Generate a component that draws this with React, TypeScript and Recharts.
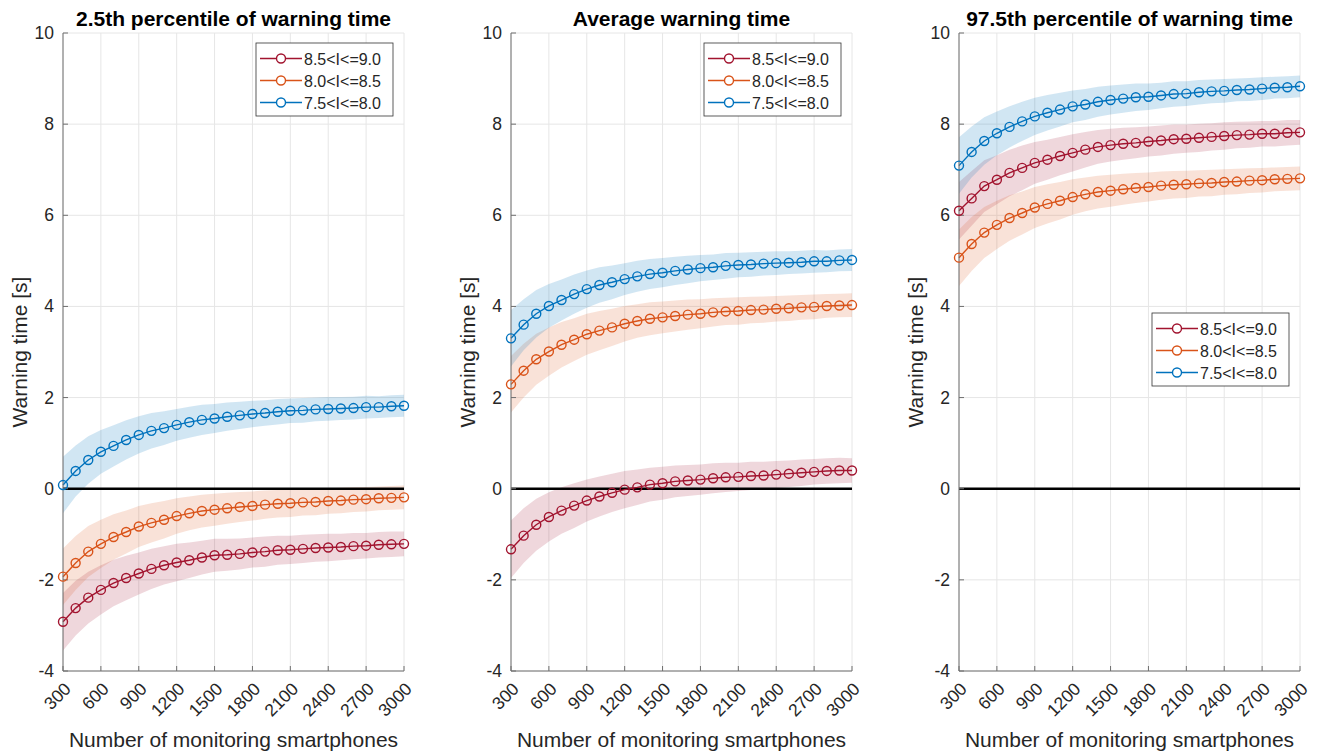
import React from "react";
import {
  ComposedChart, Area, Line, XAxis, YAxis, CartesianGrid, ReferenceLine,
} from "recharts";

// ─── Data ─────────────────────────────────────────────────────────────────────

const X_VALUES = [
  300, 400, 500, 600, 700, 800, 900, 1000, 1100, 1200, 1300, 1400, 1500, 1600,
  1700, 1800, 1900, 2000, 2100, 2200, 2300, 2400, 2500, 2600, 2700, 2800, 2900, 3000,
];
const X_TICKS = [300, 600, 900, 1200, 1500, 1800, 2100, 2400, 2700, 3000];
const Y_TICKS = [-4, -2, 0, 2, 4, 6, 8, 10];
const SERIES_NAMES = ["8.5<I<=9.0", "8.0<I<=8.5", "7.5<I<=8.0"];

// 2.5th percentile
const P1_RED = [-2.92, -2.62, -2.39, -2.22, -2.07, -1.96, -1.86, -1.76, -1.68, -1.62, -1.57, -1.51, -1.46, -1.45, -1.43, -1.4, -1.38, -1.35, -1.34, -1.32, -1.3, -1.29, -1.28, -1.26, -1.25, -1.23, -1.22, -1.21];
const P1_ORANGE = [-1.93, -1.63, -1.38, -1.21, -1.06, -0.95, -0.83, -0.75, -0.68, -0.6, -0.54, -0.49, -0.46, -0.43, -0.4, -0.38, -0.35, -0.33, -0.32, -0.3, -0.29, -0.27, -0.26, -0.24, -0.23, -0.21, -0.2, -0.19];
const P1_BLUE = [0.08, 0.39, 0.63, 0.81, 0.94, 1.07, 1.18, 1.27, 1.33, 1.4, 1.46, 1.51, 1.54, 1.58, 1.61, 1.64, 1.66, 1.69, 1.71, 1.72, 1.74, 1.75, 1.76, 1.77, 1.79, 1.79, 1.81, 1.82];

// Average
const P2_RED = [-1.33, -1.03, -0.79, -0.62, -0.48, -0.37, -0.26, -0.17, -0.09, -0.02, 0.03, 0.09, 0.12, 0.16, 0.18, 0.2, 0.23, 0.25, 0.26, 0.28, 0.29, 0.31, 0.33, 0.35, 0.37, 0.39, 0.4, 0.4];
const P2_ORANGE = [2.29, 2.59, 2.84, 3.01, 3.16, 3.27, 3.39, 3.47, 3.54, 3.62, 3.68, 3.73, 3.76, 3.79, 3.82, 3.84, 3.87, 3.89, 3.9, 3.92, 3.93, 3.95, 3.96, 3.98, 3.99, 4.01, 4.02, 4.03];
const P2_BLUE = [3.3, 3.6, 3.84, 4.01, 4.14, 4.27, 4.38, 4.47, 4.53, 4.6, 4.66, 4.71, 4.74, 4.78, 4.81, 4.84, 4.86, 4.89, 4.91, 4.92, 4.94, 4.95, 4.96, 4.97, 4.99, 4.99, 5.01, 5.02];

// 97.5th percentile
const P3_RED = [6.1, 6.37, 6.64, 6.78, 6.93, 7.04, 7.15, 7.22, 7.3, 7.37, 7.44, 7.5, 7.54, 7.57, 7.59, 7.62, 7.64, 7.67, 7.68, 7.7, 7.72, 7.74, 7.76, 7.77, 7.79, 7.79, 7.81, 7.82];
const P3_ORANGE = [5.07, 5.37, 5.62, 5.79, 5.94, 6.05, 6.17, 6.25, 6.32, 6.4, 6.46, 6.51, 6.54, 6.57, 6.6, 6.62, 6.65, 6.67, 6.68, 6.7, 6.71, 6.73, 6.74, 6.76, 6.77, 6.79, 6.8, 6.81];
const P3_BLUE = [7.09, 7.39, 7.63, 7.8, 7.94, 8.06, 8.17, 8.25, 8.32, 8.39, 8.43, 8.49, 8.53, 8.56, 8.59, 8.6, 8.63, 8.66, 8.67, 8.7, 8.72, 8.73, 8.75, 8.76, 8.78, 8.8, 8.81, 8.83];

// half-width of the shaded bands
const SPREAD_RED = [0.63, 0.6, 0.57, 0.54, 0.51, 0.49, 0.46, 0.44, 0.42, 0.41, 0.39, 0.37, 0.36, 0.35, 0.34, 0.33, 0.33, 0.32, 0.31, 0.31, 0.3, 0.3, 0.29, 0.29, 0.28, 0.28, 0.28, 0.27];
const SPREAD_ORANGE = [0.62, 0.59, 0.56, 0.53, 0.5, 0.47, 0.45, 0.43, 0.41, 0.39, 0.37, 0.36, 0.35, 0.34, 0.33, 0.32, 0.31, 0.3, 0.3, 0.29, 0.29, 0.28, 0.28, 0.27, 0.27, 0.26, 0.26, 0.26];
const SPREAD_BLUE = [0.62, 0.56, 0.52, 0.48, 0.45, 0.43, 0.41, 0.39, 0.37, 0.35, 0.34, 0.33, 0.32, 0.31, 0.3, 0.29, 0.28, 0.28, 0.27, 0.27, 0.26, 0.26, 0.25, 0.25, 0.25, 0.24, 0.24, 0.24];

// ─── Style ────────────────────────────────────────────────────────────────────

const FONT = '"Liberation Sans", Arial, Helvetica, sans-serif';
const RED = "#A2142F";
const ORANGE = "#D95319";
const BLUE = "#0072BD";
const COLORS = [RED, ORANGE, BLUE];
const AXIS = "#6e6e6e";
const TEXT = "#262626";

const CHART_W = 427;
const CHART_H = 756;
const M_TOP = 33;
const M_RIGHT = 23;
const Y_W = 63;
const X_H = 85;

// ─── Helpers ──────────────────────────────────────────────────────────────────

function buildRows(red: number[], orange: number[], blue: number[]) {
  return X_VALUES.map((x, i) => ({
    x,
    red: red[i],
    orange: orange[i],
    blue: blue[i],
    redBand: [red[i] - SPREAD_RED[i], red[i] + SPREAD_RED[i]],
    orangeBand: [orange[i] - SPREAD_ORANGE[i], orange[i] + SPREAD_ORANGE[i]],
    blueBand: [blue[i] - SPREAD_BLUE[i], blue[i] + SPREAD_BLUE[i]],
  }));
}

function XTick({ x, y, payload }: any) {
  return (
    <text
      x={x + 9}
      y={y + 4}
      transform={`rotate(-45 ${x + 9} ${y + 4})`}
      textAnchor="end"
      fontSize={17.5}
      fontFamily={FONT}
      fill={TEXT}
    >
      {payload.value}
    </text>
  );
}

function YTick({ x, y, payload }: any) {
  return (
    <text
      x={x}
      y={y}
      dy={6}
      textAnchor="end"
      fontSize={17.5}
      fontFamily={FONT}
      fill={TEXT}
    >
      {payload.value}
    </text>
  );
}

// ─── Legend ───────────────────────────────────────────────────────────────────

function LegendBox({ left, top }: { left: number; top: number }) {
  return (
    <g transform={`translate(${left},${top})`}>
      <rect x={0} y={0} width={137} height={73} fill="#fff" stroke="#333" strokeWidth={0.8} />
      {SERIES_NAMES.map((name, i) => {
        const cy = 15.5 + i * 22;
        return (
          <g key={name}>
            <line x1={4} x2={46} y1={cy} y2={cy} stroke={COLORS[i]} strokeWidth={1.5} />
            <circle cx={25} cy={cy} r={4.5} fill="#fff" stroke={COLORS[i]} strokeWidth={1.4} />
            <text x={48} y={cy + 6} fontSize={16} fontFamily={FONT} fill={TEXT}>
              {name}
            </text>
          </g>
        );
      })}
    </g>
  );
}

// ─── Panel ────────────────────────────────────────────────────────────────────

function Panel({
  left,
  title,
  red,
  orange,
  blue,
  legendTop,
}: {
  left: number;
  title: string;
  red: number[];
  orange: number[];
  blue: number[];
  legendTop: number;
}) {
  const rows = buildRows(red, orange, blue);
  const plotLeft = Y_W;
  const plotRight = CHART_W - M_RIGHT;
  const plotTop = M_TOP;
  const plotBottom = CHART_H - X_H;
  const cx = (plotLeft + plotRight) / 2;
  const cy = (plotTop + plotBottom) / 2;

  const dot = (c: string) => ({ r: 4.5, fill: "none", stroke: c, strokeWidth: 1.4 });

  return (
    <div style={{ position: "absolute", left, top: 0, width: CHART_W, height: CHART_H }}>
      <ComposedChart
        width={CHART_W}
        height={CHART_H}
        data={rows}
        margin={{ top: M_TOP, right: M_RIGHT, bottom: 0, left: 0 }}
      >
        <CartesianGrid stroke="#e6e6e6" strokeWidth={1} />
        <XAxis
          dataKey="x"
          type="number"
          domain={[300, 3000]}
          ticks={X_TICKS}
          interval={0}
          height={X_H}
          tickSize={-5}
          tickMargin={20}
          stroke={AXIS}
          tick={<XTick />}
        />
        <XAxis
          xAxisId="top"
          orientation="top"
          type="number"
          domain={[300, 3000]}
          ticks={X_TICKS}
          interval={0}
          height={0}
          tickSize={-5}
          tick={false}
          stroke={AXIS}
        />
        <YAxis
          type="number"
          domain={[-4, 10]}
          ticks={Y_TICKS}
          interval={0}
          width={Y_W}
          tickSize={-5}
          tickMargin={14}
          stroke={AXIS}
          tick={<YTick />}
        />
        <YAxis
          yAxisId="right"
          orientation="right"
          type="number"
          domain={[-4, 10]}
          ticks={Y_TICKS}
          interval={0}
          width={0}
          tickSize={-5}
          tick={false}
          stroke={AXIS}
        />
        <Area dataKey="redBand" type="linear" stroke="none" fill={RED} fillOpacity={0.17} isAnimationActive={false} activeDot={false} />
        <Area dataKey="orangeBand" type="linear" stroke="none" fill={ORANGE} fillOpacity={0.17} isAnimationActive={false} activeDot={false} />
        <Area dataKey="blueBand" type="linear" stroke="none" fill={BLUE} fillOpacity={0.18} isAnimationActive={false} activeDot={false} />
        <ReferenceLine y={0} stroke="#000" strokeWidth={2.6} />
        <Line dataKey="red" type="linear" stroke={RED} strokeWidth={1.4} dot={dot(RED)} activeDot={false} isAnimationActive={false} />
        <Line dataKey="orange" type="linear" stroke={ORANGE} strokeWidth={1.4} dot={dot(ORANGE)} activeDot={false} isAnimationActive={false} />
        <Line dataKey="blue" type="linear" stroke={BLUE} strokeWidth={1.4} dot={dot(BLUE)} activeDot={false} isAnimationActive={false} />
      </ComposedChart>

      {/* titles, axis labels, legend */}
      <svg
        width={CHART_W}
        height={CHART_H}
        style={{ position: "absolute", left: 0, top: 0, pointerEvents: "none" }}
      >
        <text x={cx} y={26} textAnchor="middle" fontSize={21} fontWeight="bold" fontFamily={FONT} fill="#000">
          {title}
        </text>
        <text
          x={20}
          y={cy}
          transform={`rotate(-90 20 ${cy})`}
          textAnchor="middle"
          dy={7}
          fontSize={21}
          fontFamily={FONT}
          fill={TEXT}
        >
          Warning time [s]
        </text>
        <text x={cx} y={747} textAnchor="middle" fontSize={21} fontFamily={FONT} fill={TEXT}>
          Number of monitoring smartphones
        </text>
        <LegendBox left={plotRight - 148} top={legendTop} />
      </svg>
    </div>
  );
}

// ─── App ──────────────────────────────────────────────────────────────────────

export default function App() {
  return (
    <div
      style={{
        position: "absolute",
        left: 0,
        top: 0,
        width: 1323,
        height: 756,
        background: "#fff",
        overflow: "hidden",
      }}
    >
      <Panel left={0} title="2.5th percentile of warning time" red={P1_RED} orange={P1_ORANGE} blue={P1_BLUE} legendTop={43} />
      <Panel left={448} title="Average warning time" red={P2_RED} orange={P2_ORANGE} blue={P2_BLUE} legendTop={43} />
      <Panel left={896} title="97.5th percentile of warning time" red={P3_RED} orange={P3_ORANGE} blue={P3_BLUE} legendTop={313} />
    </div>
  );
}
